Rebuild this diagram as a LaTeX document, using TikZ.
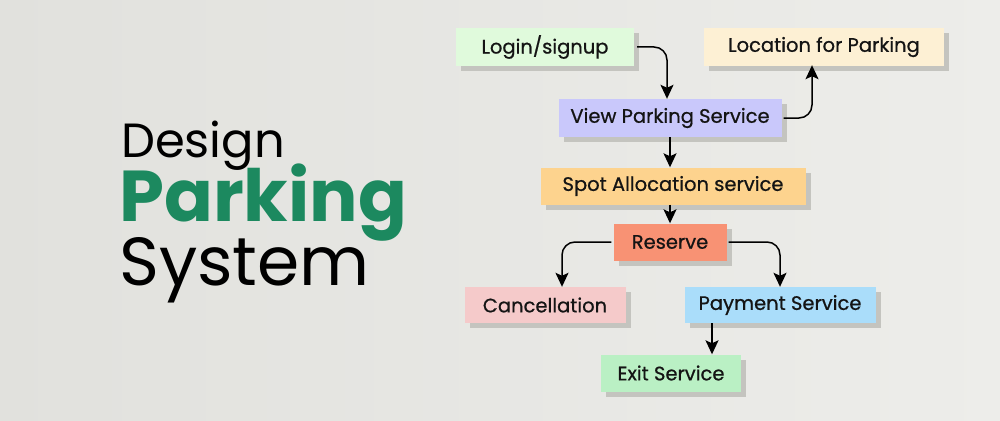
\documentclass[tikz,border=0pt]{standalone}
\usepackage{fontspec}
\setmainfont{Poppins}
\newfontfamily\popmed[FakeBold=0.7]{Poppins}
\usetikzlibrary{arrows.meta,shadows}
\definecolor{bgL}{RGB}{225,225,221}
\definecolor{bgR}{RGB}{237,237,234}
\definecolor{ttlgreen}{RGB}{28,137,95}
\definecolor{shd}{RGB}{196,196,191}
\definecolor{cLogin}{RGB}{224,250,220}
\definecolor{cLoc}{RGB}{253,240,212}
\definecolor{cView}{RGB}{201,200,251}
\definecolor{cSpot}{RGB}{253,211,142}
\definecolor{cRes}{RGB}{248,146,116}
\definecolor{cCan}{RGB}{245,202,202}
\definecolor{cPay}{RGB}{170,221,250}
\definecolor{cExit}{RGB}{186,240,196}
\tikzset{
  box/.style={inner sep=0pt, font=\popmed\fontsize{19.5}{22}\selectfont, text=black!92,
    drop shadow={shadow xshift=5pt, shadow yshift=-5pt, fill=shd, opacity=1}},
  conn/.style={line width=1.5pt, -{Stealth[length=14pt,width=13pt,inset=3pt]}, rounded corners=13pt},
}
\begin{document}
\begin{tikzpicture}[x=1pt,y=-1pt]
\useasboundingbox (0,0) rectangle (1000,420);
\shade[left color=bgL, right color=bgR] (-5,-5) rectangle (1005,425);
% title
\node[anchor=base west, inner sep=0pt, font=\fontsize{48}{48}\selectfont] (t1) at (121,157) {Design};
\node[anchor=base west, inner sep=0pt, font=\fontsize{72}{72}\selectfont\bfseries, text=ttlgreen] (t2) at (119,221) {Parking};
\node[anchor=base west, inner sep=0pt, font=\fontsize{68}{68}\selectfont] (t3) at (119,285) {System};
% boxes
\node[box, fill=cLogin, minimum width=178pt, minimum height=38pt] (login) at (545,47) {Login/signup};
\node[box, fill=cLoc, minimum width=240pt, minimum height=38pt] (loc) at (824,47) {Location for Parking};
\node[box, fill=cView, minimum width=223pt, minimum height=38pt] (view) at (670,118) {View Parking Service};
\node[box, fill=cSpot, minimum width=265pt, minimum height=37pt] (spot) at (673,186) {Spot Allocation service};
\node[box, fill=cRes, minimum width=113pt, minimum height=37pt] (res) at (670,242) {Reserve};
\node[box, fill=cCan, minimum width=161pt, minimum height=36pt] (can) at (545,305) {Cancellation};
\node[box, fill=cPay, minimum width=191pt, minimum height=36pt] (pay) at (780,305) {Payment Service};
\node[box, fill=cExit, minimum width=140pt, minimum height=37pt] (exit) at (671,373) {Exit Service};
% connectors
\draw[conn] ([xshift=3pt]login.east) -| ([xshift=-3pt]view.north);
\draw[conn] ([xshift=2pt]view.east) -| ([xshift=-12pt,yshift=1pt]loc.south);
\draw[conn] (view.south) -- (view.south |- spot.north);
\draw[conn] (spot.south -| res.north) -- (res.north);
\draw[conn] ([xshift=-2pt]res.west) -| ([xshift=17pt]can.north);
\draw[conn] ([xshift=2pt]res.east) -| (pay.north);
\draw[conn] ([xshift=-68pt]pay.south) -- ([xshift=-68pt]pay.south |- exit.north);
\end{tikzpicture}
\end{document}
